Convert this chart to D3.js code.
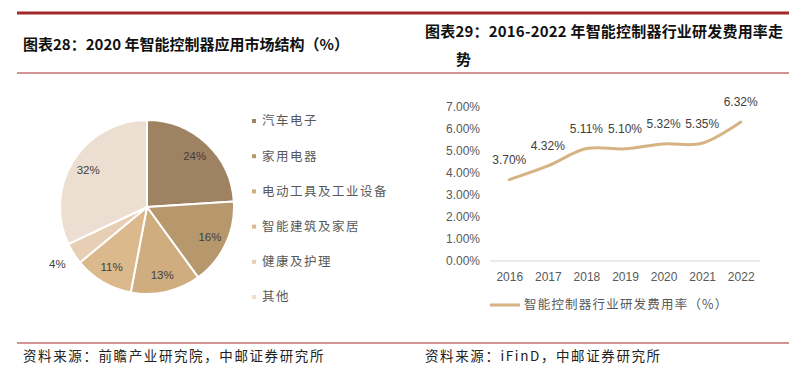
<!DOCTYPE html>
<html><head><meta charset="utf-8">
<script src="https://cdn.jsdelivr.net/npm/d3@7"></script>
<style>
body{margin:0;background:#fff;}
svg{display:block;}
</style></head>
<body>
<svg id="c" width="806" height="377"></svg>
<script>
// ---- Data ----
const pieCategories = ["汽车电子","家用电器","电动工具及工业设备","智能建筑及家居","健康及护理","其他"];
const pieValues = [24,16,13,11,4,32];
const pieColors = ["#9f8262","#b7986d","#cfad7e","#dbb98d","#e6cfb4","#ecdfd1"];

const years = ["2016","2017","2018","2019","2020","2021","2022"];
const rdRate = [3.70,4.32,5.11,5.10,5.32,5.35,6.32];
const yTicks = [0,1,2,3,4,5,6,7];
const lineSeriesName = "智能控制器行业研发费用率（%）";

const titleLeft = "图表28：2020 年智能控制器应用市场结构（%）";
const titleRight1 = "图表29：2016-2022 年智能控制器行业研发费用率走";
const titleRight2 = "势";
const sourceLeft = "资料来源：前瞻产业研究院，中邮证券研究所";
const sourceRight = "资料来源：iFinD，中邮证券研究所";

const svg = d3.select("#c");
const red = "#a3292b";
const cjk = "'Noto Sans CJK SC', 'Noto Sans', sans-serif";
const num = "'Liberation Sans', Arial, sans-serif";

// ---- frame lines ----
svg.append("line").attr("x1",17).attr("x2",789).attr("y1",13).attr("y2",13).attr("stroke",red).attr("stroke-width",3);
svg.append("line").attr("x1",17).attr("x2",789).attr("y1",73).attr("y2",73).attr("stroke",red).attr("stroke-width",1.2);
svg.append("line").attr("x1",17).attr("x2",789).attr("y1",343).attr("y2",343).attr("stroke",red).attr("stroke-width",1.2);

// ---- titles ----
svg.append("text").attr("x",23).attr("y",50).text(titleLeft)
  .attr("font-family",cjk).attr("font-weight","bold").attr("font-size",15).attr("fill","#111");
svg.append("text").attr("x",425).attr("y",37).text(titleRight1)
  .attr("font-family",cjk).attr("font-weight","bold").attr("font-size",15).attr("fill","#111").attr("letter-spacing",0.2);
svg.append("text").attr("x",456).attr("y",65).text(titleRight2)
  .attr("font-family",cjk).attr("font-weight","bold").attr("font-size",15).attr("fill","#111");

// ---- sources ----
svg.append("text").attr("x",23).attr("y",361).text(sourceLeft)
  .attr("font-family",cjk).attr("font-size",13.5).attr("fill","#222").attr("letter-spacing",1.6);
svg.append("text").attr("x",425).attr("y",361).text(sourceRight)
  .attr("font-family",cjk).attr("font-size",13.5).attr("fill","#222").attr("letter-spacing",1.6);

// ---- pie ----
const cx = 147, cy = 207, R = 87;
const pie = d3.pie().sort(null).value(d=>d)(pieValues);
const arc = d3.arc().innerRadius(0).outerRadius(R);
const gp = svg.append("g").attr("transform",`translate(${cx},${cy})`);
gp.selectAll("path").data(pie).join("path")
  .attr("d",arc).attr("fill",(d,i)=>pieColors[i])
  .attr("stroke","#fff").attr("stroke-width",2).attr("stroke-linejoin","round");
const labelArc = d3.arc().innerRadius(R*0.8).outerRadius(R*0.8);
const outerArc = d3.arc().innerRadius(R*1.22).outerRadius(R*1.22);
gp.selectAll("text.pl").data(pie).join("text").attr("class","pl")
  .attr("transform",(d,i)=>{
    const c = (pieValues[i] < 5 ? outerArc : labelArc).centroid(d);
    return `translate(${c[0]},${c[1]})`;
  })
  .attr("text-anchor","middle").attr("dy","0.35em")
  .attr("font-family",num).attr("font-size",11.5).attr("fill","#404040")
  .text((d,i)=>pieValues[i]+"%");

// ---- pie legend ----
const lg = svg.append("g");
const legY = d3.scalePoint().domain(pieCategories).range([121,297]);
pieCategories.forEach((c,i)=>{
  lg.append("rect").attr("x",252).attr("y",legY(c)-2).attr("width",4).attr("height",4).attr("fill",pieColors[i]);
  lg.append("text").attr("x",262).attr("y",legY(c)).attr("dy","0.35em").text(c)
    .attr("font-family",cjk).attr("font-size",12.5).attr("fill","#595959").attr("letter-spacing",1.5);
});

// ---- line chart ----
const x = d3.scalePoint().domain(years).range([490,760]).padding(0.5);
const y = d3.scaleLinear().domain([0,7]).range([261,107]);

svg.append("line").attr("x1",490).attr("x2",760).attr("y1",y(0)).attr("y2",y(0))
  .attr("stroke","#d9d9d9").attr("stroke-width",1);

const gy = svg.append("g").attr("transform","translate(480,0)")
  .call(d3.axisLeft(y).tickValues(yTicks).tickSize(0).tickPadding(0).tickFormat(d=>d3.format(".2f")(d)+"%"));
gy.select(".domain").remove();
gy.selectAll("text").attr("font-family",num).attr("font-size",12).attr("fill","#595959");

const gx = svg.append("g").attr("transform",`translate(0,${y(0)})`)
  .call(d3.axisBottom(x).tickSize(0).tickPadding(11));
gx.select(".domain").remove();
gx.selectAll("text").attr("font-family",num).attr("font-size",12).attr("fill","#595959");

const line = d3.line().x((d,i)=>x(years[i])).y(d=>y(d)).curve(d3.curveCatmullRom.alpha(0.5));
svg.append("path").datum(rdRate).attr("d",line)
  .attr("fill","none").attr("stroke","#d5b384").attr("stroke-width",3).attr("stroke-linecap","round");

svg.selectAll("text.dl").data(rdRate).join("text").attr("class","dl")
  .attr("x",(d,i)=>x(years[i])).attr("y",d=>y(d)-20).attr("dy","0.35em")
  .attr("text-anchor","middle").attr("font-family",num).attr("font-size",12).attr("fill","#404040")
  .text(d=>d3.format(".2f")(d)+"%");

// legend
svg.append("line").attr("x1",490).attr("x2",520).attr("y1",305).attr("y2",305)
  .attr("stroke","#d5b384").attr("stroke-width",3);
svg.append("text").attr("x",524).attr("y",305).attr("dy","0.35em").text(lineSeriesName)
  .attr("font-family",cjk).attr("font-size",12.5).attr("fill","#595959").attr("letter-spacing",1.2);
</script>
</body></html>
